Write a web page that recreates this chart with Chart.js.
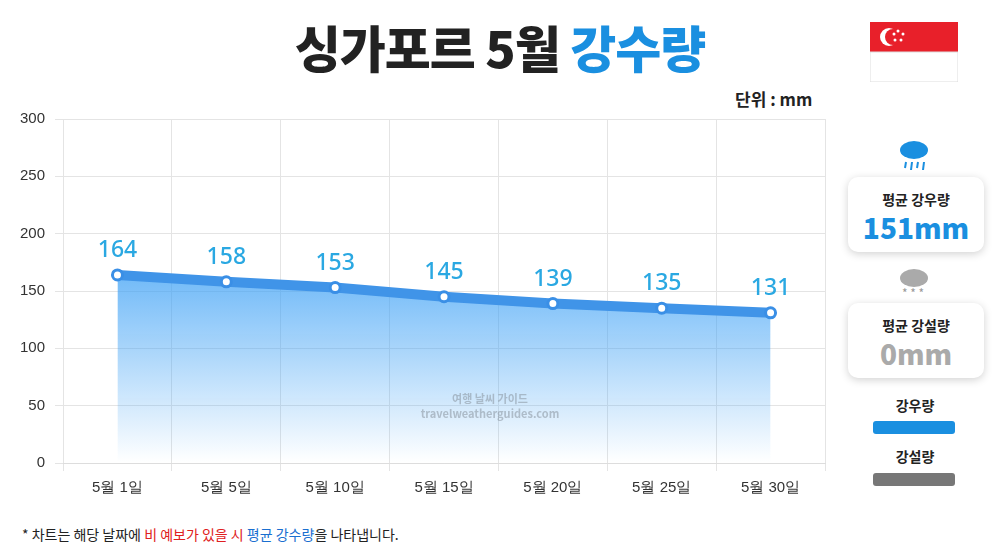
<!DOCTYPE html>
<html><head><meta charset="utf-8">
<script src="https://cdn.jsdelivr.net/npm/chart.js@4"></script>
<style>
body{margin:0;width:1000px;height:545px;background:#fff;font-family:"Noto Sans CJK KR","Noto Sans",sans-serif;position:relative;overflow:hidden}
#title{position:absolute;left:0;width:1000px;top:10px;text-align:center;font-size:50px;font-weight:900;color:#222;letter-spacing:-1px}
#title span{color:#1a8fe0}
#unit{position:absolute;left:735px;top:86px;font-size:17px;font-weight:700;color:#222}
#wrap{position:absolute;left:0;top:100px;width:840px;height:405px}
#note{position:absolute;left:22px;top:524px;font-size:14px;color:#222}
#note b{color:#e02020;font-weight:400}#note i{font-style:normal;color:#1a6fd0}
.card{position:absolute;left:848px;width:136px;background:#fff;border-radius:10px;box-shadow:0 2px 8px rgba(0,0,0,.18);text-align:center}
.card .t{font-size:14px;font-weight:700;color:#222;margin-top:12px}
.card .v{font-size:28px;font-weight:800;margin-top:-2px}
.lg{position:absolute;left:875px;width:80px;text-align:center;font-size:14px;font-weight:700;color:#222}
.bar{position:absolute;left:873px;width:82px;height:13px;border-radius:3px}
</style></head><body>
<div id="title">싱가포르 5월 <span>강수량</span></div>
<div id="unit">단위 : mm</div>
<svg style="position:absolute;left:870px;top:22px" width="88" height="60">
<rect x="0" y="0" width="88" height="30" fill="#e8202a"/><rect x="0" y="30" width="88" height="30" fill="#fff" stroke="#ddd"/>
<circle cx="19" cy="15" r="9" fill="#fff"/><circle cx="23" cy="15" r="8" fill="#e8202a"/>
<g fill="#fff"><circle cx="28" cy="9" r="1.5"/><circle cx="33" cy="12" r="1.5"/><circle cx="31" cy="18" r="1.5"/><circle cx="25" cy="18" r="1.5"/><circle cx="24" cy="12" r="1.5"/></g>
</svg>
<svg style="position:absolute;left:896px;top:138px" width="36" height="34"><ellipse cx="18" cy="12" rx="14" ry="9" fill="#1a8fe0"/><g stroke="#1a8fe0" stroke-width="2"><line x1="10" y1="24" x2="9" y2="30"/><line x1="16" y1="24" x2="15" y2="32"/><line x1="22" y1="24" x2="21" y2="30"/><line x1="28" y1="24" x2="27" y2="32"/></g></svg>
<div class="card" style="top:177px;height:75px"><div class="t">평균 강우량</div><div class="v" style="color:#1a8fe0">151mm</div></div>
<svg style="position:absolute;left:896px;top:266px" width="36" height="34"><ellipse cx="18" cy="12" rx="14" ry="9" fill="#aaa"/><text x="6" y="32" font-size="12" fill="#999">* * *</text></svg>
<div class="card" style="top:303px;height:75px"><div class="t">평균 강설량</div><div class="v" style="color:#aaa">0mm</div></div>
<div class="lg" style="top:395px">강우량</div><div class="bar" style="top:421px;background:#1a8fe0"></div>
<div class="lg" style="top:446px">강설량</div><div class="bar" style="top:473px;background:#777"></div>
<div id="wrap"><canvas id="c" width="840" height="405"></canvas></div>
<div style="position:absolute;left:320px;top:391px;width:340px;text-align:center;font-size:11px;font-weight:700;color:rgba(130,140,150,.5);line-height:15px">여행 날씨 가이드<br>travelweatherguides.com</div>
<div id="note">* 차트는 해당 날짜에 <b>비 예보가 있을 시</b> <i>평균 강수량</i>을 나타냅니다.</div>
<script>
const categories=["5월 1일","5월 5일","5월 10일","5월 15일","5월 20일","5월 25일","5월 30일"];
const rainfall=[164,158,153,145,139,135,131];
const yTicks=[0,50,100,150,200,250,300];
const labelPlugin={id:'lbl',afterDatasetsDraw(ch){const ctx=ch.ctx;const m=ch.getDatasetMeta(0);ctx.save();ctx.font='500 23px "Noto Sans",sans-serif';ctx.fillStyle='#2aa8e2';ctx.textAlign='center';m.data.forEach((p,i)=>ctx.fillText(rainfall[i],p.x,p.y-18));ctx.restore();}};
new Chart(document.getElementById('c'),{type:'line',data:{labels:categories,datasets:[{data:rainfall,borderColor:'#4094e8',borderWidth:10,pointRadius:5,pointBackgroundColor:'#fff',pointBorderColor:'#3a8fe6',pointBorderWidth:3,fill:true,tension:0,
backgroundColor:(c)=>{const a=c.chart.chartArea;if(!a)return 'rgba(60,150,240,.5)';const g=c.chart.ctx.createLinearGradient(0,a.top+150,0,a.bottom);g.addColorStop(0,'rgba(60,160,245,0.75)');g.addColorStop(1,'rgba(60,160,245,0)');return g;}}]},
options:{responsive:false,animation:false,layout:{padding:{left:10,right:15,top:13,bottom:0}},plugins:{legend:{display:false},tooltip:{enabled:false}},
scales:{x:{offset:true,grid:{color:'#e4e4e4',offset:true},border:{color:'#ddd'},ticks:{color:'#333',font:{size:15},padding:8}},
y:{min:0,max:300,afterBuildTicks:a=>{a.ticks=yTicks.map(v=>({value:v}))},grid:{color:'#e4e4e4'},border:{display:false},ticks:{color:'#333',font:{size:15},padding:10}}}},plugins:[labelPlugin]});
</script>
</body></html>
